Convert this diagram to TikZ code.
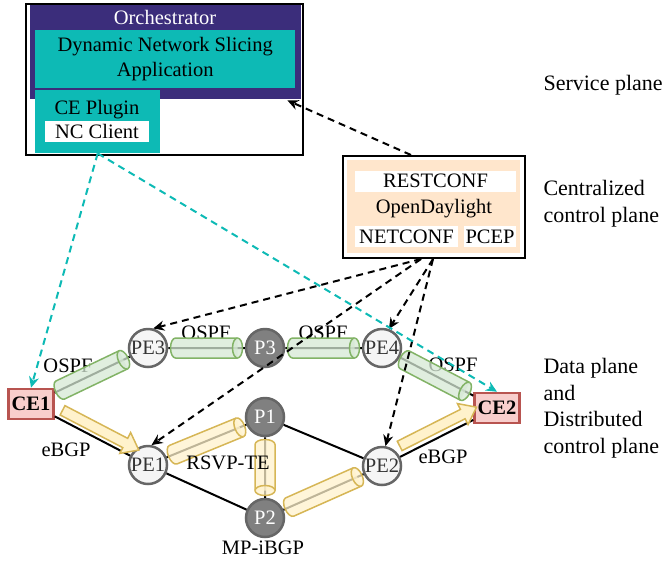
\documentclass[tikz,border=0pt]{standalone}
\usepackage{fontspec}
\setmainfont{Liberation Serif}
\usetikzlibrary{arrows.meta,positioning,shapes.arrows,calc}

\definecolor{orchpurple}{HTML}{3B2D7B}
\definecolor{appteal}{HTML}{0DBAB5}
\definecolor{odlpeach}{HTML}{FFE6CC}
\definecolor{cefill}{HTML}{F8CECC}
\definecolor{celine}{HTML}{B85450}
\definecolor{ospffill}{HTML}{D5E8D4}
\definecolor{ospfline}{HTML}{82B366}
\definecolor{tefill}{HTML}{FFF2CC}
\definecolor{teline}{HTML}{D6B656}
\definecolor{pefill}{HTML}{F5F5F5}
\definecolor{routerline}{HTML}{666666}
\definecolor{pfill}{HTML}{808080}

% tunnel drawn as a lying cylinder between two nodes
% #1 style, #2 from, #3 to, #4 position, #5 length
\newcommand{\drawpipe}[5]{%
    \pgfmathanglebetweenpoints{\pgfpointanchor{#2}{center}}{\pgfpointanchor{#3}{center}}%
    \edef\pipeangle{\pgfmathresult}%
    \begin{scope}[shift={($(#2)!#4!(#3)$)}, rotate=\pipeangle]
        \filldraw[#1] ({-#5/2+5pt},10pt) -- ({#5/2-5pt},10pt)
            arc[start angle=90, end angle=-90, x radius=5pt, y radius=10pt]
            -- ({-#5/2+5pt},-10pt)
            arc[start angle=270, end angle=90, x radius=5pt, y radius=10pt] -- cycle;
        \draw[#1] ({#5/2-5pt},10pt) arc[start angle=90, end angle=270, x radius=5pt, y radius=10pt];
    \end{scope}}

\begin{document}
\begin{tikzpicture}[
        x=1pt, y=-1pt,
        font=\fontsize{20.5}{25}\selectfont,
        panel/.style={inner sep=0pt, anchor=north west},
        tag/.style={fill=white, minimum height=21pt, inner sep=0pt},
        pe/.style={circle, draw=routerline, line width=2.5pt, fill=pefill, minimum size=38pt, inner sep=0pt, text=black!80},
        prouter/.style={pe, fill=pfill, text=white},
        ce/.style={draw=celine, line width=2.5pt, fill=cefill, minimum width=45pt, minimum height=30pt, inner sep=0pt, font=\fontsize{20.5}{25}\selectfont\bfseries},
        link/.style={line width=2pt},
        pipe/.style={line width=1.5pt, fill opacity=0.75},
        ospf/.style={pipe, draw=ospfline, fill=ospffill},
        rsvp/.style={pipe, draw=teline, fill=tefill},
        bgparrow/.style={single arrow, sloped, draw=teline, fill=tefill, line width=1.5pt, inner sep=4.5pt, single arrow head extend=6.5pt, single arrow tip angle=75, minimum height=86pt},
        ctrl/.style={line width=2pt, dash pattern=on 7pt off 5pt, -{Stealth[length=11pt,width=10pt]}},
        cfg/.style={ctrl, appteal},
        plane/.style={anchor=west, align=left, font=\fontsize{22}{26.5}\selectfont}
    ]
    \useasboundingbox (0,0) rectangle (663,563);

    % service plane
    \node[panel, draw, line width=2pt, fill=white, minimum width=277pt, minimum height=151pt] (orch) at (25,3) {};
    \node[panel, fill=orchpurple, minimum width=271pt, minimum height=94pt] (orchhead) at (30,5) {};
    \node[text=white] (orchlabel) at (165,17) {Orchestrator};
    \node[panel, fill=appteal, minimum width=260pt, minimum height=58pt, align=center] (app) at (35,30) {Dynamic Network Slicing\\Application};
    \node[panel, fill=appteal, minimum width=125pt, minimum height=63pt] (plugin) at (35,90) {};
    \node (pluginlabel) at (97,110) {CE Plugin};
    \node[tag, minimum width=104pt] (ncclient) at (97,131.5) {NC Client};

    % centralized control plane
    \node[panel, draw, line width=2pt, fill=white, minimum width=182pt, minimum height=102pt] (odlframe) at (342,155) {};
    \node[panel, fill=odlpeach, minimum width=173pt, minimum height=93pt] (odl) at (347,160) {};
    \node[tag, minimum width=161pt] (restconf) at (435.5,181) {RESTCONF};
    \node (odllabel) at (434,209) {OpenDaylight};
    \node[tag, minimum width=103pt] (netconf) at (406.5,236.5) {NETCONF};
    \node[tag, minimum width=52pt] (pcep) at (490,236.5) {PCEP};

    % data plane
    \node[pe] (PE3) at (148,348) {PE3};
    \node[prouter] (P3) at (265,348) {P3};
    \node[pe] (PE4) at (382,348) {PE4};
    \node[prouter] (P1) at (265,417) {P1};
    \node[pe] (PE1) at (148,465) {PE1};
    \node[prouter] (P2) at (265,518) {P2};
    \node[pe] (PE2) at (382,466) {PE2};
    \node[ce] (CE1) at (31,404) {CE1};
    \node[ce] (CE2) at (497,408) {CE2};

    \draw[link] (CE1) -- (PE3) -- (P3) -- (PE4) -- (CE2);
    \draw[link] (CE1) -- (PE1) -- (P1) -- (P2) -- (PE2) -- (CE2);
    \draw[link] (PE1) -- (P2);
    \draw[link] (P1) -- (PE2);

    \node (ospfAlabel) at (68,366) {OSPF};
    \node (ospfBlabel) at (206,333) {OSPF};
    \node (ospfClabel) at (323,333) {OSPF};
    \node (ospfDlabel) at (453,365) {OSPF};
    \node (ebgpAlabel) at (66,450) {eBGP};
    \node (ebgpBlabel) at (443,457) {eBGP};
    \node (ibgplabel) at (263,548) {MP-iBGP};

    \drawpipe{ospf}{CE1}{PE3}{0.52}{80pt}
    \drawpipe{ospf}{PE3}{P3}{0.5}{72pt}
    \drawpipe{ospf}{P3}{PE4}{0.5}{72pt}
    \drawpipe{ospf}{PE4}{CE2}{0.46}{78pt}
    \drawpipe{rsvp}{PE1}{P1}{0.5}{82pt}
    \drawpipe{rsvp}{P1}{P2}{0.5}{56pt}
    \drawpipe{rsvp}{P2}{PE2}{0.5}{84pt}
    \node (rsvplabel) at (228,463) {RSVP-TE};

    \path (CE1.center) -- (PE1.center) node[bgparrow, pos=0.534, above=3pt] (ebgpA) {};
    \path (PE2.center) -- (CE2.center) node[bgparrow, pos=0.5, above=4pt] (ebgpB) {};

    % control connections
    \coordinate (odlL) at ($(odlframe.south)+(-13,0)$);
    \coordinate (odlR) at ($(odlframe.south)+(-1,0)$);
    \coordinate (odlT) at ($(odlframe.north)+(-23,0)$);
    \coordinate (orchin) at ($(orchhead.south east)+(-14,1)$);
    \draw[ctrl] (odlT) -- (orchin);
    \draw[ctrl] (odlL) -- (PE3.75);
    \draw[ctrl] (odlL) -- (PE1.80);
    \draw[ctrl] (odlR) -- (PE4.70);
    \draw[ctrl] (odlR) -- (PE2.80);
    \draw[cfg] (plugin.south) -- (CE1.north);
    \draw[cfg] (plugin.south) -- (CE2.north);

    \node[plane] (svc) at (540,85) {Service plane};
    \node[plane] (ctl) at (540,203.5) {Centralized\\control plane};
    \node[plane] (data) at (540,408) {Data plane\\and\\Distributed\\control plane};
\end{tikzpicture}
\end{document}
